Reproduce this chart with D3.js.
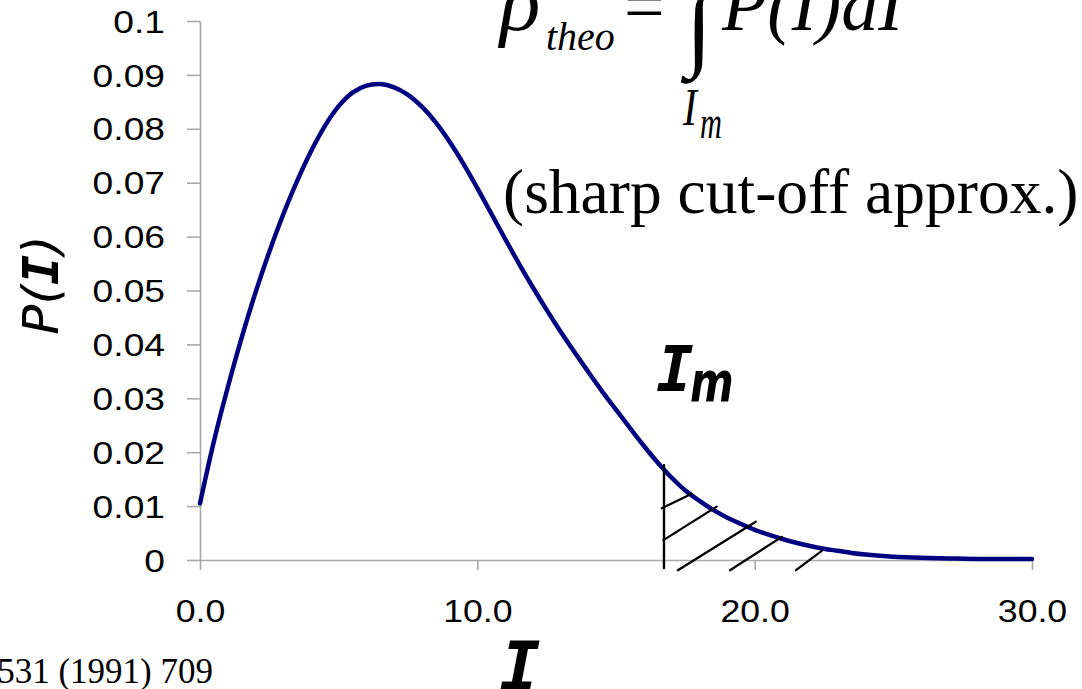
<!DOCTYPE html>
<html>
<head>
<meta charset="utf-8">
<script src="https://cdn.jsdelivr.net/npm/d3@7"></script>
<style>
  html, body { margin: 0; padding: 0; background: #ffffff; }
  svg { display: block; }
</style>
</head>
<body>
<svg id="chart" width="1082" height="689"></svg>
<script>
// Intensity distribution P(I)
const intensity = [0, 0.5, 1, 1.5, 2, 2.5, 3, 3.5, 4, 4.5, 5, 5.5, 6, 6.5, 7, 7.5, 8, 8.5, 9, 9.5,
  10, 10.5, 11, 11.5, 12, 12.5, 13, 13.5, 14, 14.5, 15, 15.5, 16, 16.5, 17, 17.5, 18, 18.5, 19, 19.5,
  20, 20.5, 21, 21.5, 22, 22.5, 23, 23.5, 24, 25, 26, 27, 28, 29, 30];
const probability = [0.0105, 0.0220, 0.0320, 0.0412, 0.0496, 0.0572, 0.0641, 0.0703, 0.0758, 0.0805,
  0.0842, 0.0867, 0.0880, 0.0883, 0.0877, 0.0863, 0.0841, 0.0812, 0.0776, 0.0735,
  0.0690, 0.0643, 0.0596, 0.0550, 0.0506, 0.0464, 0.0424, 0.0386, 0.0349, 0.0313,
  0.0279, 0.0245, 0.0212, 0.0181, 0.0153, 0.0129, 0.0110, 0.0093, 0.0079, 0.0067,
  0.0056, 0.0047, 0.0039, 0.0032, 0.0026, 0.0021, 0.0017, 0.0013, 0.0010, 0.0006,
  0.0004, 0.0003, 0.0002, 0.0002, 0.0002];

// Axis ticks
const xTickValues = [0, 10, 20, 30];
const xTickLabels = ["0.0", "10.0", "20.0", "30.0"];
const yTickValues = [0, 0.01, 0.02, 0.03, 0.04, 0.05, 0.06, 0.07, 0.08, 0.09, 0.1];
const yTickLabels = ["0", "0.01", "0.02", "0.03", "0.04", "0.05", "0.06", "0.07", "0.08", "0.09", "0.1"];

// Cut-off intensity I_m and the hand-drawn hatching of the tail beyond it (I, P pairs)
const cutoffI = 16.73;
const cutoffSpan = [-0.0015, 0.0176];
const hatchFromI = [16.65, 16.71, 17.23, 19.11, 21.49];
const hatchFromP = [0.0096, 0.0037, -0.0019, -0.0019, -0.0019];
const hatchToI = [17.73, 18.63, 20.04, 20.98, 22.42];
const hatchToP = [0.0123, 0.0099, 0.0071, 0.0043, 0.0017];

const svg = d3.select("#chart");
const x = d3.scaleLinear().domain([0, 30]).range([200, 1032]);
const y = d3.scaleLinear().domain([0, 0.1]).range([560, 21]);

const sans = "'Liberation Sans', Arial, sans-serif";
const serif = "'Liberation Serif', 'Times New Roman', serif";
const handI = "'DejaVu Sans Mono', monospace";
const handText = "'DejaVu Sans', sans-serif";
const axisGrey = "#a9a9a9";

// Y axis
const yAxis = svg.append("g")
  .attr("transform", `translate(${x(0)},0)`)
  .call(d3.axisLeft(y)
    .tickValues(yTickValues)
    .tickFormat(d => yTickLabels[yTickValues.indexOf(d)])
    .tickSize(13)
    .tickSizeOuter(0));

// X axis
const xAxis = svg.append("g")
  .attr("transform", `translate(0,${y(0)})`)
  .call(d3.axisBottom(x)
    .tickValues(xTickValues)
    .tickFormat(d => xTickLabels[xTickValues.indexOf(d)])
    .tickSize(10)
    .tickSizeOuter(0));

[yAxis, xAxis].forEach(g => {
  g.select(".domain").attr("stroke", axisGrey).attr("stroke-width", 1.6);
  g.selectAll(".tick line").attr("stroke", axisGrey).attr("stroke-width", 1.6);
  g.selectAll(".tick text")
    .attr("fill", "#000")
    .style("font-family", sans)
    .style("font-size", "31px");
});

const yStretch = 1.2;
yAxis.selectAll(".tick text")
  .attr("x", -35 / yStretch)
  .attr("dy", "0.36em")
  .attr("transform", `scale(${yStretch},1)`);

xAxis.selectAll(".tick text")
  .attr("y", 62)
  .attr("dy", 0)
  .attr("transform", "scale(1.15,1)");

// Distribution curve
const curve = d3.line()
  .x((d, i) => x(intensity[i]))
  .y(d => y(d))
  .curve(d3.curveCatmullRom.alpha(0.5));

svg.append("path")
  .datum(probability)
  .attr("d", curve)
  .attr("fill", "none")
  .attr("stroke", "#000080")
  .attr("stroke-width", 4.5)
  .attr("stroke-linejoin", "round")
  .attr("stroke-linecap", "round");

// Cut-off line and hatching
const hatch = svg.append("g").attr("stroke", "#000").attr("stroke-linecap", "round");
hatch.append("line")
  .attr("x1", x(cutoffI)).attr("x2", x(cutoffI))
  .attr("y1", y(cutoffSpan[0])).attr("y2", y(cutoffSpan[1]))
  .attr("stroke-width", 2.4);
hatch.selectAll("line.diag")
  .data(hatchFromI)
  .join("line")
  .attr("class", "diag")
  .attr("x1", (d, i) => x(hatchFromI[i]))
  .attr("y1", (d, i) => y(hatchFromP[i]))
  .attr("x2", (d, i) => x(hatchToI[i]))
  .attr("y2", (d, i) => y(hatchToP[i]))
  .attr("stroke-width", 2.2);

// Axis titles (handwritten style)
const yTitle = svg.append("text")
  .attr("transform", "translate(58,285) rotate(-90)")
  .attr("text-anchor", "middle")
  .style("font-size", "50px")
  .style("font-style", "oblique")
  .style("font-family", handText);
yTitle.append("tspan").text("P(");
yTitle.append("tspan").style("font-family", handI).style("font-weight", "bold").text("I");
yTitle.append("tspan").text(")");

svg.append("text")
  .attr("x", 520).attr("y", 690)
  .attr("text-anchor", "middle")
  .style("font-family", handI)
  .style("font-weight", "bold")
  .style("font-style", "oblique")
  .style("font-size", "68px")
  .text("I");

// I_m marker label
svg.append("text")
  .attr("x", 675).attr("y", 391)
  .attr("text-anchor", "middle")
  .style("font-family", handI)
  .style("font-weight", "bold")
  .style("font-style", "oblique")
  .style("font-size", "62px")
  .text("I");
svg.append("text")
  .attr("transform", "translate(690,401) scale(0.75,1)")
  .style("font-family", handText)
  .style("font-weight", "bold")
  .style("font-style", "oblique")
  .style("font-size", "56px")
  .text("m");

// Formula: rho_theo = integral from I_m of P(I) dI
const formula = svg.append("g").style("font-family", serif).attr("fill", "#000");
formula.append("text").attr("x", 500).attr("y", 30)
  .style("font-style", "italic").style("font-size", "84px").text("ρ");
formula.append("text").attr("x", 546).attr("y", 50)
  .style("font-style", "italic").style("font-size", "40px").text("theo");
formula.append("text").attr("x", 624).attr("y", 30)
  .style("font-size", "72px").text("=");
formula.append("text").attr("x", 686).attr("y", 58)
  .style("font-size", "96px").text("∫");
formula.append("text").attr("x", 722).attr("y", 30)
  .style("font-style", "italic").style("font-size", "74px").text("P(I)dI");
formula.append("text").attr("transform", "translate(683,125) scale(0.8,1)")
  .style("font-style", "italic").style("font-size", "52px").text("I");
formula.append("text").attr("transform", "translate(700,138) scale(0.66,1)")
  .style("font-style", "italic").style("font-size", "46px").text("m");
formula.append("text").attr("x", 503).attr("y", 213)
  .style("font-size", "63.5px").text("(sharp cut-off approx.)");

// Reference note
svg.append("text")
  .attr("x", 213).attr("y", 683)
  .attr("text-anchor", "end")
  .style("font-family", serif)
  .style("font-size", "35px")
  .text("531 (1991) 709");
</script>
</body>
</html>
